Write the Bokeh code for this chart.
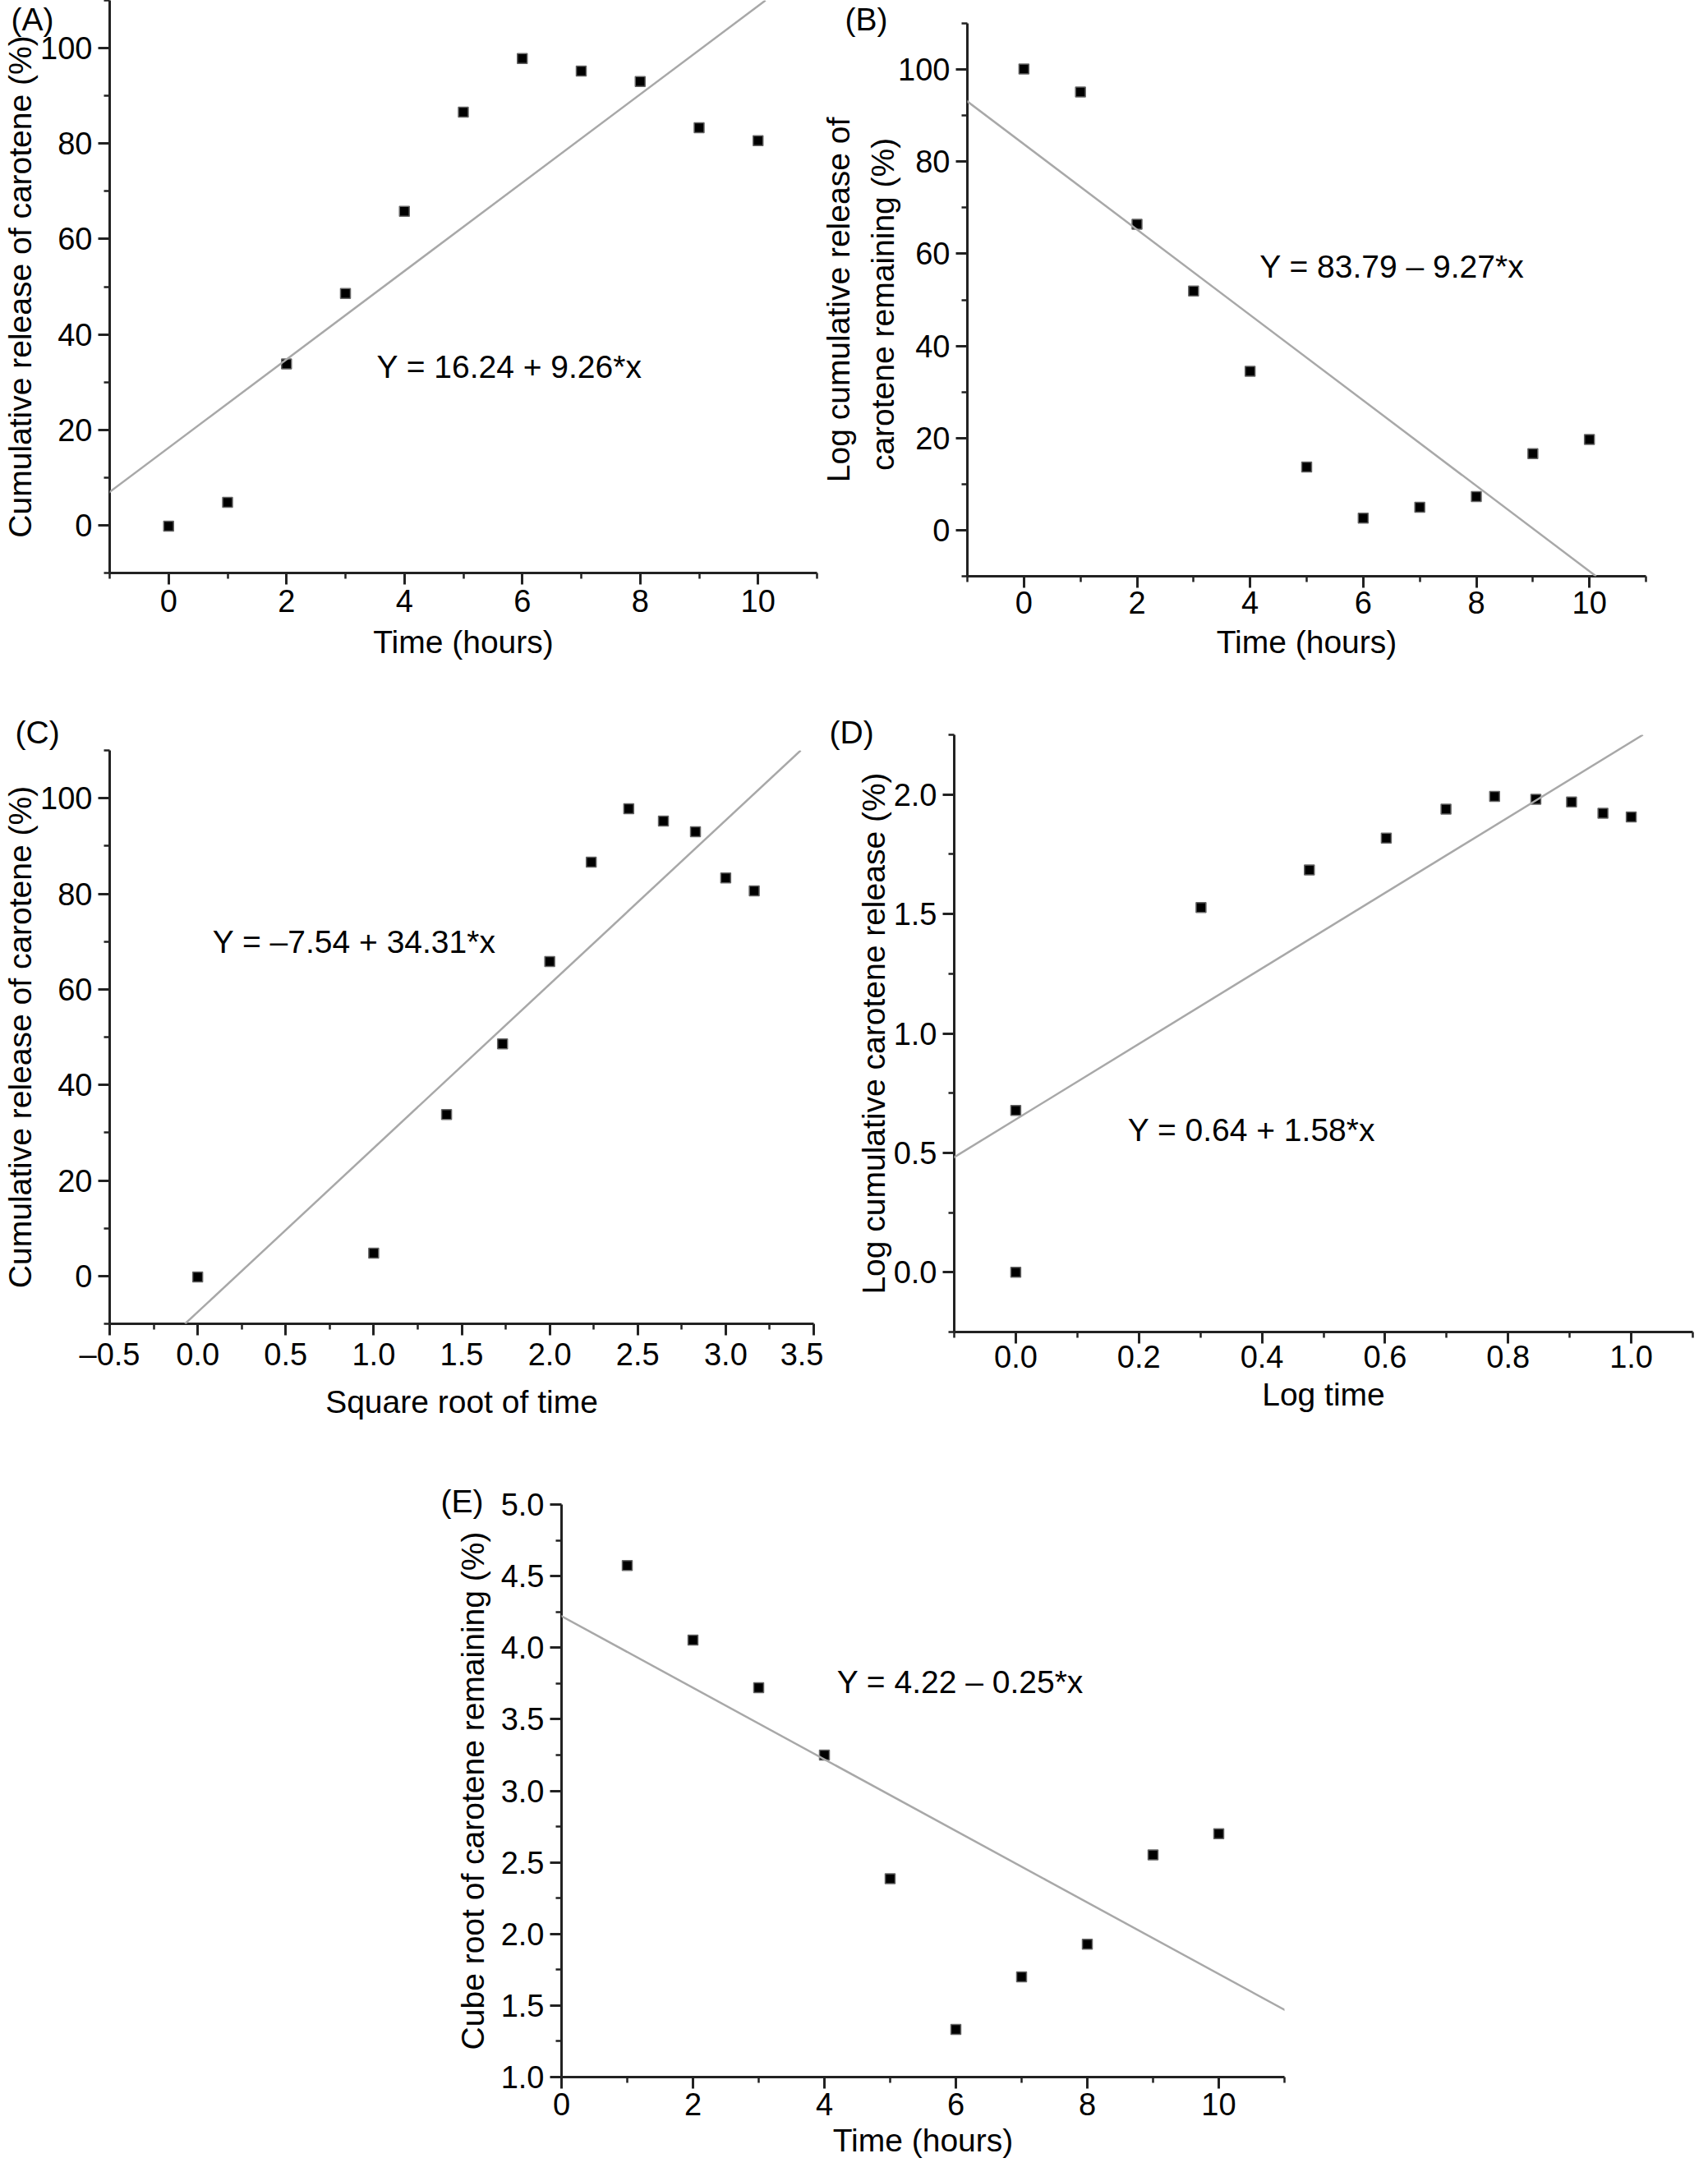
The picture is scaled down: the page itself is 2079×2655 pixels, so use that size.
from bokeh.plotting import figure
from bokeh.models import FixedTicker, Label, PrintfTickFormatter, Range1d, Spacer, Slope, Title
from bokeh.layouts import column, row
from bokeh.embed import file_html
from bokeh.resources import INLINE

FONT = "Liberation Sans"
TICK_FS = "38px"
LAB_FS = "39px"

# ---------------- data ----------------
time_hours = [0, 1, 2, 3, 4, 5, 6, 7, 8, 9, 10]
cum_release = [-0.2, 4.8, 33.8, 48.6, 65.8, 86.6, 97.8, 95.2, 93.0, 83.3, 80.6]
log_remaining = [100.1, 95.1, 66.4, 51.9, 34.5, 13.7, 2.6, 5.0, 7.3, 16.6, 19.7]
sqrt_time = [0.0, 1.0, 1.414, 1.732, 2.0, 2.236, 2.449, 2.646, 2.828, 3.0, 3.162]
log_time = [0.0, 0.0, 0.301, 0.477, 0.602, 0.699, 0.778, 0.845, 0.903, 0.954, 1.0]
log_release = [0.0, 0.678, 1.527, 1.684, 1.818, 1.939, 1.992, 1.980, 1.969, 1.922, 1.906]
time_e = [1, 2, 3, 4, 5, 6, 7, 8, 9, 10]
cube_root_remaining = [4.574, 4.053, 3.72, 3.25, 2.386, 1.333, 1.70, 1.928, 2.552, 2.70]

# regression equations printed on the panels: (intercept, slope)
fit_A = (16.24, 9.26)
fit_B = (83.79, -9.27)
fit_C = (-7.54, 34.31)
fit_D = (0.64, 1.58)
fit_E = (4.22, -0.25)

eq_A = "Y = 16.24 + 9.26*x"
eq_B = "Y = 83.79 \u2013 9.27*x"
eq_C = "Y = \u20137.54 + 34.31*x"
eq_D = "Y = 0.64 + 1.58*x"
eq_E = "Y = 4.22 \u2013 0.25*x"

# ticks
hours_major = [0, 2, 4, 6, 8, 10]
hours_minor = [-1, 1, 3, 5, 7, 9, 11]
pct_major = [0, 20, 40, 60, 80, 100]
pct_minor = [-10, 10, 30, 50, 70, 90, 110]
sqrt_major = [-0.5, 0.0, 0.5, 1.0, 1.5, 2.0, 2.5, 3.0, 3.5]
sqrt_minor = [-0.25, 0.25, 0.75, 1.25, 1.75, 2.25, 2.75, 3.25]
logt_major = [0.0, 0.2, 0.4, 0.6, 0.8, 1.0]
logt_minor = [-0.1, 0.1, 0.3, 0.5, 0.7, 0.9, 1.1]
logr_major = [0.0, 0.5, 1.0, 1.5, 2.0]
logr_minor = [-0.25, 0.25, 0.75, 1.25, 1.75, 2.25]
cube_major = [1.0, 1.5, 2.0, 2.5, 3.0, 3.5, 4.0, 4.5, 5.0]
cube_minor = [1.25, 1.75, 2.25, 2.75, 3.25, 3.75, 4.25, 4.75]
hours_e_minor = [1, 3, 5, 7, 9, 11]

AX = "#222222"
FIT = "#a8a8a8"


def panel(width, height, bl, br, bt, bb, xr, yr, xt, xmin_t, yt, ymin_t,
          xlabel, ylabel, xfmt=None, yfmt=None, xover=None, ylab_standoff=0,
          xlab_standoff=12, xtick_standoff=6):
    p = figure(width=width, height=height, title=None,
               x_range=Range1d(*xr), y_range=Range1d(*yr),
               output_backend="svg", toolbar_location=None,
               min_border_left=bl, min_border_right=br,
               min_border_top=bt, min_border_bottom=bb)
    p.outline_line_color = None
    p.xgrid.visible = False
    p.ygrid.visible = False
    for ax in (p.xaxis[0], p.yaxis[0]):
        ax.axis_line_width = 3
        ax.axis_line_color = AX
        ax.major_tick_line_width = 3
        ax.major_tick_line_color = AX
        ax.minor_tick_line_width = 2.5
        ax.minor_tick_line_color = AX
        ax.major_tick_out = 14
        ax.major_tick_in = 0
        ax.minor_tick_out = 7
        ax.minor_tick_in = 0
        ax.major_label_text_font = FONT
        ax.major_label_text_font_size = TICK_FS
        ax.major_label_text_color = "black"
        ax.axis_label_text_font = FONT
        ax.axis_label_text_font_size = LAB_FS
        ax.axis_label_text_font_style = "normal"
        ax.axis_label_text_color = "black"
    p.xaxis[0].major_label_standoff = xtick_standoff
    p.yaxis[0].major_label_standoff = 7
    p.xaxis[0].axis_label_standoff = xlab_standoff
    p.yaxis[0].axis_label_standoff = ylab_standoff
    p.xaxis[0].ticker = FixedTicker(ticks=xt, minor_ticks=xmin_t)
    p.yaxis[0].ticker = FixedTicker(ticks=yt, minor_ticks=ymin_t)
    if xfmt:
        p.xaxis[0].formatter = PrintfTickFormatter(format=xfmt)
    if yfmt:
        p.yaxis[0].formatter = PrintfTickFormatter(format=yfmt)
    if xover:
        p.xaxis[0].major_label_overrides = xover
    p.xaxis[0].axis_label = xlabel
    p.yaxis[0].axis_label = ylabel
    return p


def add_fit(p, fit):
    p.add_layout(Slope(gradient=fit[1], y_intercept=fit[0],
                       line_color=FIT, line_width=2.5))


def add_points(p, x, y):
    p.scatter(x, y, marker="square", size=12, fill_color="black",
              line_color="#666666", line_width=1.5)


def add_text(p, x, y, txt):
    p.add_layout(Label(x=x, y=y, text=txt, text_font=FONT,
                       text_font_size=LAB_FS, text_baseline="middle",
                       text_align="left", text_color="black"))


def add_letter(p, txt, offset, standoff):
    p.add_layout(Title(text=txt, align="left", offset=offset, standoff=standoff,
                       text_font=FONT, text_font_size=LAB_FS,
                       text_font_style="normal", text_color="black"), "above")


# ---------------- (A) ----------------
pA = panel(996, 860, 120, 2, 0, 163, (-1, 11), (-10, 110),
           hours_major, hours_minor, pct_major, pct_minor,
           "Time (hours)", "Cumulative release of carotene (%)")
add_fit(pA, fit_A)
add_points(pA, time_hours, cum_release)
add_text(pA, 3.53, 33.2, eq_A)
add_letter(pA, "(A)", -120, -88)

# ---------------- (B) ----------------
pB = panel(1067, 860, 164, 60, 28, 159, (-1, 11), (-10, 110),
           hours_major, hours_minor, pct_major, pct_minor,
           "Time (hours)", "Log cumulative release of\ncarotene remaining  (%)",
           ylab_standoff=-6, xlab_standoff=10, xtick_standoff=4)
pB.yaxis[0].axis_label_text_line_height = 1.25
add_fit(pB, fit_B)
add_points(pB, time_hours, log_remaining)
add_text(pB, 4.17, 57.2, eq_B)
add_letter(pB, "(B)", -149, -32)

# ---------------- (C) ----------------
pC = panel(1002, 892, 115, 12, 53, 141, (-0.5, 3.5), (-10, 110),
           sqrt_major, sqrt_minor, pct_major, pct_minor,
           "Square root of time", "Cumulative release of carotene (%)",
           xfmt="%.1f", xover={-0.5: "\u20130.5"}, xtick_standoff=2)
add_fit(pC, fit_C)
add_points(pC, sqrt_time, cum_release)
add_text(pC, 0.085, 70.0, eq_C)
add_letter(pC, "(C)", -115, 2)

# ---------------- (D) ----------------
pD = panel(1061, 892, 159, 3, 34, 131, (-0.1, 1.1), (-0.25, 2.25),
           logt_major, logt_minor, logr_major, logr_minor,
           "Log time", "Log cumulative carotene release (%)",
           xfmt="%.1f", yfmt="%.1f", xtick_standoff=2, xlab_standoff=8)
add_fit(pD, fit_D)
add_points(pD, log_time, log_release)
add_text(pD, 0.182, 0.596, eq_D)
add_letter(pD, "(D)", -152, -36)

# ---------------- (E) ----------------
pE = panel(1071, 887, 151, 40, 79, 111, (0, 11), (1, 5),
           hours_major, hours_e_minor, cube_major, cube_minor,
           "Time (hours)", "Cube root of carotene remaining (%)",
           yfmt="%.1f", xlab_standoff=6, xtick_standoff=5, ylab_standoff=10)
add_fit(pE, fit_E)
add_points(pE, time_e, cube_root_remaining)
add_text(pE, 4.19, 3.758, eq_E)
add_letter(pE, "(E)", -147, -34)

layout = column(
    row(column(pA), column(pB)),
    row(column(pC), column(pD)),
    row(Spacer(width=532, height=887), column(pE)),
)

open("out.html", "w").write(file_html(layout, INLINE))
